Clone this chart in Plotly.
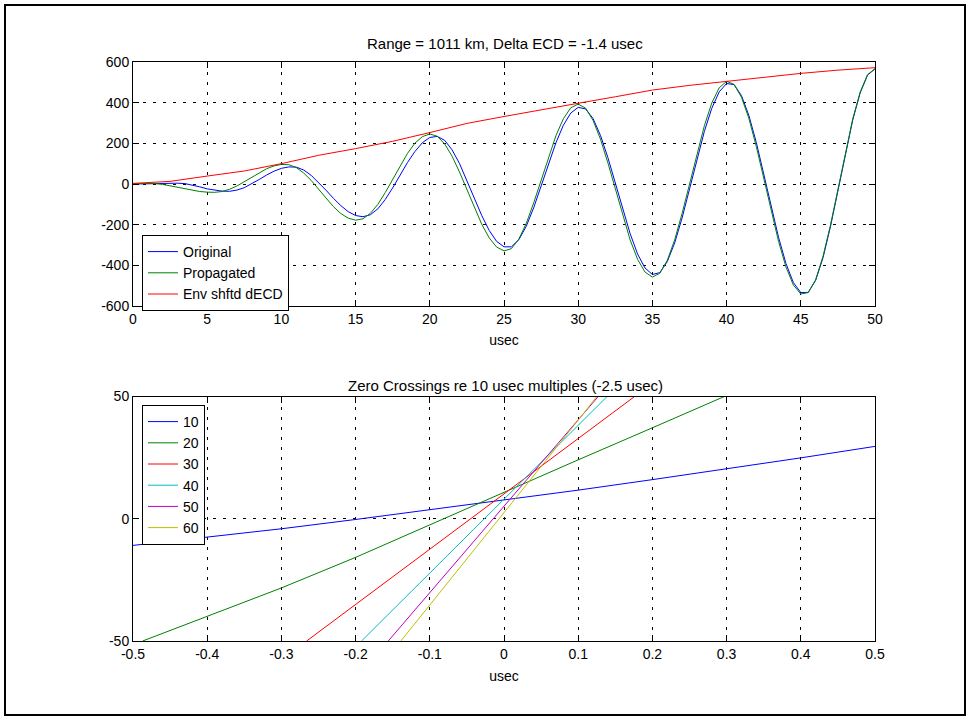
import plotly.graph_objects as go

# ---- upper panel: pulse waveforms, sampled every 0.5 usec from 0 to 50 usec ----
SAMPLE_STEP = 0.5
t_usec = [k * SAMPLE_STEP for k in range(101)]

original = [
    0, 1, 2, 3, 4, 4, 4, 2, -5, -14,
    -24, -31, -35, -36, -30, -18, 1, 22, 44, 63,
    77, 84, 83, 69, 43, 9, -30, -70, -106, -136,
    -155, -161, -151, -122, -76, -19, 43, 106, 160, 203,
    229, 234, 215, 168, 101, 18, -70, -155, -228, -282,
    -309, -309, -274, -208, -117, -11, 99, 203, 289, 349,
    377, 369, 322, 239, 130, 5, -124, -244, -344, -413,
    -445, -436, -382, -290, -167, -26, 121, 258, 372, 453,
    494, 489, 435, 337, 205, 51, -110, -262, -391, -485,
    -534, -533, -474, -362, -209, -33, 149, 315, 448, 536,
    566,
]

propagated = [
    2, 3, 3, 2, -2, -9, -16, -24, -31, -37,
    -40, -41, -37, -26, -10, 11, 34, 56, 75, 89,
    96, 95, 81, 54, 18, -25, -69, -111, -145, -168,
    -178, -171, -144, -100, -42, 24, 91, 151, 201, 233,
    246, 235, 197, 137, 59, -29, -117, -198, -265, -310,
    -329, -318, -271, -194, -93, 20, 134, 238, 321, 375,
    393, 373, 313, 221, 104, -26, -156, -275, -370, -433,
    -458, -439, -376, -275, -145, 1, 150, 286, 398, 473,
    505, 490, 427, 323, 185, 29, -131, -282, -408, -497,
    -541, -534, -471, -355, -202, -25, 155, 320, 452, 538,
    567,
]

# envelope shifted by delta ECD, every 2.5 usec
env_t = [0, 2.5, 5, 7.5, 10, 12.5, 15, 17.5, 20, 22.5, 25,
         27.5, 30, 32.5, 35, 37.5, 40, 42.5, 45, 47.5, 50]
env_shifted = [3, 13, 39, 64, 100, 141, 174, 210, 253, 298, 332,
               363, 397, 429, 462, 485, 505, 527, 544, 560, 572]

# ---- lower panel: signal near each zero crossing (offset from crossing, usec) ----
zc_10_x = [-0.5, -0.4, -0.3, -0.2, -0.1, 0.0, 0.1, 0.2, 0.3, 0.4, 0.5]
zc_10_y = [-10.9, -7.6, -4.1, -0.3, 3.6, 7.6, 11.7, 16.0, 20.4, 24.9, 29.6]

zc_20_x = [-0.487, -0.4, -0.3, -0.2, -0.1, 0.0, 0.1, 0.2, 0.297]
zc_20_y = [-50.0, -40.0, -28.3, -15.8, -2.5, 11.0, 24.1, 37.2, 50.0]

zc_30_x = [-0.266, -0.2, -0.1, 0.0, 0.1, 0.176]
zc_30_y = [-50.0, -35.0, -12.5, 10.2, 32.8, 50.0]

zc_40_x = [-0.192, -0.1, 0.0, 0.1, 0.139]
zc_40_y = [-50.0, -22.2, 7.9, 38.1, 50.0]

zc_50_x = [-0.156, -0.1, 0.0, 0.1, 0.127]
zc_50_y = [-50.0, -30.2, 5.1, 40.4, 50.0]

zc_60_x = [-0.139, -0.1, 0.0, 0.1, 0.125]
zc_60_y = [-50.0, -35.3, 2.5, 40.3, 50.0]

zc_names = ["10", "20", "30", "40", "50", "60"]

# tick positions and labels (plain hyphen minus signs)
top_x_ticks = [0, 5, 10, 15, 20, 25, 30, 35, 40, 45, 50]
top_y_ticks = [-600, -400, -200, 0, 200, 400, 600]
top_y_labels = ["-600", "-400", "-200", "0", "200", "400", "600"]
bot_x_ticks = [-0.5, -0.4, -0.3, -0.2, -0.1, 0, 0.1, 0.2, 0.3, 0.4, 0.5]
bot_x_labels = ["-0.5", "-0.4", "-0.3", "-0.2", "-0.1", "0",
                "0.1", "0.2", "0.3", "0.4", "0.5"]
bot_y_ticks = [-50, 0, 50]
bot_y_labels = ["-50", "0", "50"]

# MATLAB default line colours
BLUE = "rgb(0,0,255)"
GREEN = "rgb(0,128,0)"
RED = "rgb(255,0,0)"
CYAN = "rgb(0,191,191)"
MAGENTA = "rgb(191,0,191)"
OLIVE = "rgb(191,191,0)"

FONT = "Liberation Sans, Arial, Helvetica, sans-serif"

fig = go.Figure()

fig.add_trace(go.Scatter(x=t_usec, y=original, mode="lines", name="Original",
                         line=dict(color=BLUE, width=1), xaxis="x", yaxis="y",
                         legend="legend"))
fig.add_trace(go.Scatter(x=t_usec, y=propagated, mode="lines", name="Propagated",
                         line=dict(color=GREEN, width=1), xaxis="x", yaxis="y",
                         legend="legend"))
fig.add_trace(go.Scatter(x=env_t, y=env_shifted, mode="lines", name="Env shftd dECD",
                         line=dict(color=RED, width=1), xaxis="x", yaxis="y",
                         legend="legend"))

zc_series = [
    (zc_10_x, zc_10_y, BLUE),
    (zc_20_x, zc_20_y, GREEN),
    (zc_30_x, zc_30_y, RED),
    (zc_40_x, zc_40_y, CYAN),
    (zc_50_x, zc_50_y, MAGENTA),
    (zc_60_x, zc_60_y, OLIVE),
]
for name, (xs, ys, col) in zip(zc_names, zc_series):
    fig.add_trace(go.Scatter(x=xs, y=ys, mode="lines", name=name,
                             line=dict(color=col, width=1), xaxis="x2", yaxis="y2",
                             legend="legend2"))

axis_common = dict(
    showline=True, linecolor="black", linewidth=1, mirror="ticks",
    ticks="inside", ticklen=6, tickcolor="black", tickwidth=1,
    showgrid=True, gridcolor="black", gridwidth=1, griddash="3px,7px",
    zeroline=False, tickfont=dict(family=FONT, size=14, color="black"),
)

M_L, M_R, M_T, M_B = 133, 95, 62, 78
W, H = 970, 719
PW = W - M_L - M_R
PH = H - M_T - M_B


def px_x(px):
    return (px - M_L) / PW


def px_y(py):
    return (H - M_B - py) / PH


legend_style = dict(xanchor="left", yanchor="top", bgcolor="white",
                    bordercolor="black", borderwidth=1,
                    font=dict(family=FONT, size=14, color="black"),
                    tracegroupgap=0, itemwidth=30)

fig.update_layout(
    width=W, height=H,
    margin=dict(l=M_L, r=M_R, t=M_T, b=M_B),
    paper_bgcolor="white", plot_bgcolor="white",
    font=dict(family=FONT, size=14, color="black"),
    xaxis=dict(axis_common, domain=[0, 1], range=[0, 50],
               tickvals=top_x_ticks, anchor="y",
               title=dict(text="usec", font=dict(family=FONT, size=14), standoff=9)),
    yaxis=dict(axis_common, domain=[px_y(306), 1.0], range=[-600, 600],
               tickvals=top_y_ticks, ticktext=top_y_labels, anchor="x"),
    xaxis2=dict(axis_common, domain=[0, 1], range=[-0.5, 0.5],
                tickvals=bot_x_ticks, ticktext=bot_x_labels, anchor="y2",
                title=dict(text="usec", font=dict(family=FONT, size=14), standoff=10)),
    yaxis2=dict(axis_common, domain=[0, px_y(396.5)], range=[-50, 50],
                tickvals=bot_y_ticks, ticktext=bot_y_labels, anchor="x2"),
    legend=dict(legend_style, x=px_x(142), y=px_y(235)),
    legend2=dict(legend_style, x=px_x(142), y=px_y(405)),
    annotations=[
        dict(text="Range = 1011 km, Delta ECD = -1.4 usec", xref="paper", yref="paper",
             x=px_x(505), y=px_y(43), xanchor="center", yanchor="middle",
             showarrow=False, font=dict(family=FONT, size=15, color="black")),
        dict(text="Zero Crossings re 10 usec multiples (-2.5 usec)", xref="paper",
             yref="paper", x=px_x(505), y=px_y(385), xanchor="center",
             yanchor="middle", showarrow=False,
             font=dict(family=FONT, size=15, color="black")),
    ],
    shapes=[
        dict(type="rect", xref="paper", yref="paper",
             x0=px_x(5), x1=px_x(965), y0=px_y(715), y1=px_y(5),
             line=dict(color="black", width=2), fillcolor="rgba(0,0,0,0)",
             layer="above"),
    ],
    showlegend=True,
)

fig.write_html("out.html")
